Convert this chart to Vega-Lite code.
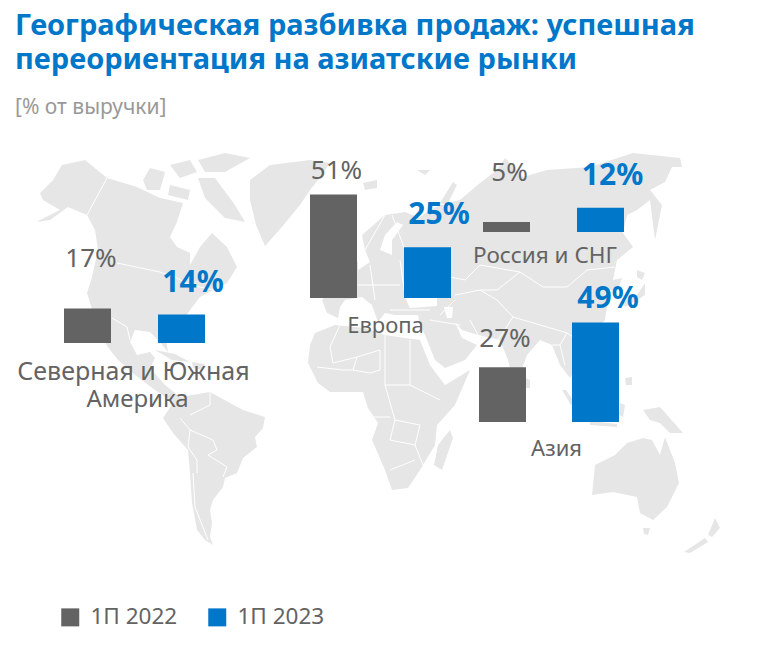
{"$schema":"https://vega.github.io/schema/vega-lite/v6.json","width":778,"height":659,"autosize":"none","padding":0,"background":"white","view":{"stroke":null},
"title":{"text":["Географическая разбивка продаж: успешная","переориентация на азиатские рынки"],"subtitle":"[% от выручки]","anchor":"start","frame":"group","font":"Noto Sans","fontSize":29,"fontWeight":"bold","color":"#0077C8","lineHeight":34,"subtitleFont":"Noto Sans","subtitleFontSize":21,"subtitleColor":"#999999","subtitlePadding":22,"offset":0,"dx":15,"dy":118},
"datasets":{
"sales":[{"region":"Северная и Южная Америка","period":"1П 2022","value":17,"lon":-292.5,"base":155.7,"labelLon":-289,"labelLat":63},
{"region":"Северная и Южная Америка","period":"1П 2023","value":14,"lon":-198.5,"base":155.7,"labelLon":-187,"labelLat":38},
{"region":"Европа","period":"1П 2022","value":51,"lon":-46.5,"base":177.8,"labelLon":-43.5,"labelLat":151},
{"region":"Европа","period":"1П 2023","value":25,"lon":47.5,"base":177.8,"labelLon":59,"labelLat":106},
{"region":"Россия и СНГ","period":"1П 2022","value":5,"lon":126.5,"base":210.3,"labelLon":129.5,"labelLat":149},
{"region":"Россия и СНГ","period":"1П 2023","value":12,"lon":220.5,"base":210.3,"labelLon":232.5,"labelLat":145},
{"region":"Азия","period":"1П 2022","value":27,"lon":122.5,"base":116.7,"labelLon":125,"labelLat":-17},
{"region":"Азия","period":"1П 2023","value":49,"lon":215.5,"base":116.7,"labelLon":228,"labelLat":22}],
"regions":[{"name":"Северная и Южная","lon":-246.5,"lat":-50,"size":25},{"name":"Америка","lon":-242.5,"lat":-77,"size":24},{"name":"Европа","lon":5.5,"lat":-3,"size":22},{"name":"Россия и СНГ","lon":165,"lat":67,"size":22.5},{"name":"Азия","lon":176.5,"lat":-126,"size":22}]},
"layer":[
{"data":{"values":[{"type":"Feature","properties":{"name":"land"},"geometry":{"type":"MultiPolygon","coordinates":[
[[[-318,165],[-295,170],[-273,152],[-243,143],[-220,132],[-197,127],[-203,108],[-210,93],[-203,83],[-190,77],[-190,65],[-180,83],[-168,97],[-153,83],[-143,63],[-153,47],[-180,33],[-190,20],[-197,10],[-215,-5],[-212,-22],[-220,-12],[-230,-2],[-245,0],[-250,-12],[-243,-25],[-230,-22],[-225,-28],[-230,-38],[-215,-55],[-200,-67],[-205,-73],[-225,-60],[-245,-45],[-262,-30],[-270,-20],[-280,-5],[-293,37],[-288,53],[-282,80],[-285,100],[-293,115],[-312,123],[-330,110],[-344,108],[-320,120],[-337,130],[-340,137],[-327,150],[-318,165]]],
[[[-200,-67],[-170,-62],[-150,-73],[-137,-80],[-115,-87],[-117,-98],[-125,-107],[-123,-117],[-137,-128],[-143,-143],[-155,-148],[-157,-157],[-167,-170],[-170,-180],[-168,-193],[-170,-207],[-167,-215],[-175,-210],[-183,-200],[-188,-173],[-190,-143],[-192,-120],[-207,-103],[-217,-88],[-207,-73],[-200,-67]]],
[[[-130,150],[-110,165],[-70,170],[-50,167],[-62,150],[-70,140],[-80,125],[-99,102],[-115,84],[-124,105],[-130,130],[-130,150]]],
[[[-53,17],[-58,30],[-45,45],[-35,55],[-22,60],[-10,68],[-15,80],[-18,95],[5,115],[25,118],[40,112],[25,102],[47,118],[60,125],[80,130],[100,147],[117,160],[125,172],[143,153],[167,160],[210,163],[253,177],[300,172],[302,163],[292,163],[285,148],[270,140],[282,125],[275,90],[270,130],[257,120],[247,115],[243,97],[253,83],[237,70],[233,50],[242,52],[238,40],[225,40],[227,23],[225,10],[210,-5],[195,-15],[198,-35],[190,-48],[180,-35],[172,-15],[160,-10],[147,-25],[135,-58],[128,-30],[120,-10],[98,-5],[82,0],[75,8],[82,-8],[97,-15],[85,-30],[65,-38],[55,-30],[45,-5],[40,5],[38,15],[15,15],[5,17],[-2,8],[-8,25],[-18,33],[-35,30],[-40,23],[-42,12],[-53,17]],
[[30,22],[57,24],[57,34],[25,32],[30,22]],
[[67,12],[72,12],[73,23],[64,23],[67,12]],
[[12,75],[12,90],[23,105],[17,108],[5,95],[0,80],[12,75]]],
[[[-70,-15],[-65,-3],[-45,5],[-15,2],[5,-5],[25,-8],[40,-10],[50,-35],[65,-55],[90,-40],[75,-75],[57,-95],[55,-115],[40,-140],[28,-158],[12,-160],[5,-140],[-8,-110],[-2,-93],[-12,-78],[-17,-62],[-50,-62],[-62,-53],[-72,-33],[-70,-15]]],
[[[70,-100],[73,-108],[62,-140],[54,-135],[58,-115],[70,-100]]],
[[[212,-165],[215,-135],[235,-125],[247,-113],[263,-108],[272,-110],[280,-125],[285,-107],[295,-133],[299,-153],[287,-177],[273,-190],[260,-183],[257,-167],[233,-162],[212,-165]]],
[[[-237,150],[-230,162],[-215,158],[-220,140],[-233,140],[-237,150]]],
[[[-210,165],[-190,170],[-183,158],[-200,152],[-210,165]]],
[[[-182,170],[-155,177],[-130,172],[-155,158],[-175,158],[-182,170]]],
[[[-182,152],[-165,152],[-145,125],[-135,108],[-155,112],[-175,132],[-182,152]]],
[[[-210,145],[-190,140],[-192,130],[-212,135],[-210,145]]],
[[[-17,147],[-3,150],[-3,142],[-15,140],[-17,147]]],
[[[37,160],[50,160],[45,155],[37,160]]],
[[[60,127],[73,148],[77,145],[67,125],[60,127]]],
[[[-225,-20],[-205,-24],[-190,-32],[-208,-30],[-225,-20]]],
[[[-188,-32],[-175,-34],[-177,-40],[-187,-38],[-188,-32]]],
[[[-30,72],[-22,68],[-22,55],[-35,52],[-30,72]]],
[[[265,47],[265,35],[245,23],[242,27],[257,35],[265,47]]],
[[[257,60],[265,57],[262,50],[257,53],[257,60]]],
[[[145,-48],[150,-50],[150,-58],[146,-58],[145,-48]]],
[[[182,-60],[186,-60],[195,-73],[191,-75],[182,-60]]],
[[[210,-91],[237,-94],[237,-97],[210,-95],[210,-91]]],
[[[245,-48],[252,-47],[252,-55],[246,-55],[245,-48]]],
[[[240,-73],[245,-75],[243,-87],[239,-85],[240,-73]]],
[[[263,-80],[280,-77],[303,-103],[290,-103],[280,-93],[270,-90],[263,-80]]],
[[[263,-198],[270,-198],[268,-205],[264,-204],[263,-198]]],
[[[335,-188],[340,-198],[332,-207],[328,-205],[335,-188]]],
[[[325,-208],[328,-212],[310,-223],[304,-222],[325,-208]]]
]}}],"format":{"type":"json"}},
"mark":{"type":"geoshape","fill":"#E6E6E6","stroke":null},"projection":{"type":"identity","reflectY":true,"scale":1,"translate":[380,330]}},
{"data":{"values":[{"type":"Feature","properties":{"name":"borders"},"geometry":{"type":"MultiLineString","coordinates":[
[[-273,152],[-293,115]],[[-263,67],[-220,58],[-205,53],[-190,45],[-165,40]],[[-268,12],[-253,3],[-250,-10]],
[[-200,-88],[-190,-100],[-192,-117],[-183,-130],[-183,-143]],[[-190,-100],[-167,-110],[-163,-120],[-172,-125],[-153,-137],[-157,-147]],[[-170,-62],[-170,-75],[-190,-85]],[[-187,-143],[-185,-177],[-172,-210]],
[[-50,-17],[-47,-33],[-23,-27],[0,-20],[0,-40],[-10,-43]],[[-23,-27],[-27,-40],[-10,-43]],[[-63,-37],[-37,-40],[-27,-40]],[[5,-5],[5,-55],[30,-55],[30,-10]],[[30,-55],[60,-70]],[[5,-55],[15,-90],[40,-95]],[[15,-90],[10,-110],[35,-115]],[[10,-140],[35,-130]],[[40,-95],[35,-115],[45,-140]],[[-7,-87],[10,-87]],[[-40,5],[-50,-17]],
[[60,55],[85,50],[100,65],[140,58],[163,43],[187,43],[207,60],[235,63]],[[75,35],[100,40],[117,40],[140,58]],[[100,40],[117,30],[133,13],[167,3],[187,-3],[205,-15]],[[60,15],[75,30]],[[90,10],[98,-5]],[[10,20],[50,20]],[[50,10],[80,5]],[[20,70],[25,35],[60,55]],[[-10,65],[-5,30]],[[-35,45],[20,45]],[[-15,80],[5,115]],[[12,115],[25,80]],[[133,13],[118,-10]],[[172,-15],[180,-15],[187,-3]],[[180,-15],[185,-35]]
]}}],"format":{"type":"json"}},
"mark":{"type":"geoshape","filled":false,"stroke":"white","strokeWidth":1},"projection":{"type":"identity","reflectY":true,"scale":1,"translate":[380,330]}},
{"data":{"name":"sales"},"transform":[{"calculate":"datum.base+datum.value","as":"top"}],
"mark":{"type":"bar","width":47},
"encoding":{"x":{"field":"lon","type":"quantitative","scale":{"domain":[-380,398],"nice":false,"zero":false,"padding":0},"axis":null},
"y":{"field":"top","type":"quantitative","scale":{"domain":[0,324.6],"zero":false,"nice":false,"padding":0},"axis":null},"y2":{"field":"base"},
"color":{"field":"period","type":"nominal","scale":{"domain":["1П 2022","1П 2023"],"range":["#636363","#0077C8"]},
"legend":{"title":null,"orient":"none","legendX":59,"legendY":606,"direction":"horizontal","columns":2,"symbolType":"square","symbolSize":324,"symbolStrokeWidth":0,"symbolOpacity":1,"labelFont":"Noto Sans","labelFontSize":22.5,"labelColor":"#636363","labelOffset":9,"columnPadding":28,"labelLimit":200}}}},
{"data":{"name":"sales"},"transform":[{"filter":"datum.period==='1П 2022'"},{"calculate":"datum.value+'%'","as":"label"}],
"mark":{"type":"text","font":"Noto Sans","fontSize":26,"baseline":"alphabetic","align":"center"},
"encoding":{"x":{"field":"labelLon","type":"quantitative","axis":null},
"y":{"field":"labelLat","type":"quantitative","scale":{"domain":[-329,330],"nice":false,"zero":false},"axis":null},
"text":{"field":"label"},
"color":{"field":"period","type":"nominal"}}},
{"data":{"name":"sales"},"transform":[{"filter":"datum.period==='1П 2023'"},{"calculate":"datum.value+'%'","as":"label"}],
"mark":{"type":"text","font":"Noto Sans","fontSize":30,"fontWeight":"bold","baseline":"alphabetic","align":"center"},
"encoding":{"x":{"field":"labelLon","type":"quantitative","axis":null},
"y":{"field":"labelLat","type":"quantitative","scale":{"domain":[-329,330],"nice":false,"zero":false},"axis":null},
"text":{"field":"label"},
"color":{"field":"period","type":"nominal"}}},
{"data":{"name":"regions"},
"mark":{"type":"text","font":"Noto Sans","baseline":"alphabetic","align":"center","color":"#636363"},
"encoding":{"x":{"field":"lon","type":"quantitative","axis":null},
"y":{"field":"lat","type":"quantitative","scale":{"domain":[-329,330],"nice":false,"zero":false},"axis":null},
"text":{"field":"name"},"size":{"field":"size","type":"quantitative","scale":null,"legend":null}}}
],
"resolve":{"scale":{"y":"independent"}}}
